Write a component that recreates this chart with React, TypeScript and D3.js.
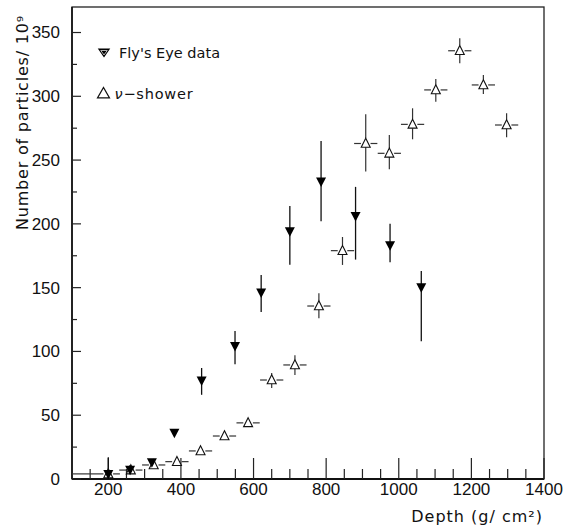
import React from "react";
import * as d3 from "d3";

const flyDepth = [200, 260, 320, 382, 457, 549, 621, 700, 786, 881, 976, 1062];
const flyValue = [3.7, 7, 13, 36, 77, 104, 146, 194, 233, 206, 183, 150];
const flyLow = [0, 4, 11, 35, 66, 90, 131, 168, 202, 172, 170, 108];
const flyHigh = [17, 11, 15, 37, 87, 116, 160, 214, 265, 229, 200, 163];

const nuDepth = [200, 262, 325, 389, 454, 520, 585, 650, 714, 780, 845, 909, 974, 1038, 1102, 1168, 1233, 1297];
const nuValue = [4, 7, 11, 13.6, 22, 33.7, 44, 77.6, 89.4, 135.6, 179, 263, 255.3, 278, 305, 335.7, 308.9, 277.5];
const nuLow = [4, 7, 11, 13.6, 22, 33.7, 44, 71.3, 81.5, 126, 167.8, 241, 242.8, 266.3, 295.8, 325.9, 301.8, 267.9];
const nuHigh = [4, 7, 11, 13.6, 22, 33.7, 44, 83, 97, 145.6, 189.7, 286, 269.7, 290.6, 313.5, 345.5, 316.7, 286.7];
const nuBinLow = [100, 230, 293, 357, 422, 488, 553, 618, 682, 748, 813, 877, 942, 1006, 1070, 1136, 1201, 1265];
const nuBinHigh = [232, 294, 357, 421, 486, 552, 617, 682, 746, 812, 877, 941, 1006, 1070, 1134, 1200, 1265, 1329];

const xMajorTicks = [200, 400, 600, 800, 1000, 1200, 1400];
const yMajorTicks = [0, 50, 100, 150, 200, 250, 300, 350];

const W = 566, H = 529;
const L = 72, R = 544, T = 7, B = 479;

export default function App() {
  const x = d3.scaleLinear().domain([100, 1400]).range([L, R]);
  const y = d3.scaleLinear().domain([0, 370]).range([B, T]);
  const xMinor = d3.range(150, 1400, 50).filter((v) => v % 200 !== 0);
  const yMinor = d3.range(25, 370, 50);
  const num = "'Liberation Sans', Arial, sans-serif";
  const txt = "'DejaVu Sans', sans-serif";

  const downTri = (cx: number, cy: number, w: number, h: number) =>
    `M${cx - w / 2},${cy - h * 0.45}L${cx + w / 2},${cy - h * 0.45}L${cx},${cy + h * 0.55}Z`;
  const upTri = (cx: number, cy: number, w: number, h: number) =>
    `M${cx - w / 2},${cy + h * 0.42}L${cx + w / 2},${cy + h * 0.42}L${cx},${cy - h * 0.58}Z`;

  return (
    <svg width={W} height={H} style={{ position: "absolute", left: 0, top: 0, background: "#fff" }}>
      {/* frame */}
      <rect x={L} y={T} width={R - L} height={B - T} fill="none" stroke="#222" strokeWidth={1.3} />
      <line x1={L} x2={R} y1={B} y2={B} stroke="#111" strokeWidth={2} />
      <line x1={L} x2={L} y1={T} y2={B} stroke="#111" strokeWidth={1.6} />

      {/* x ticks */}
      {xMajorTicks.map((v) => (
        <g key={"xm" + v}>
          <line x1={x(v)} x2={x(v)} y1={B} y2={B - 21} stroke="#222" strokeWidth={1.2} />
          <text x={x(v)} y={495} textAnchor="middle" fontFamily={num} fontSize={17} fill="#111">
            {v}
          </text>
        </g>
      ))}
      {xMinor.map((v) => (
        <line key={"xn" + v} x1={x(v)} x2={x(v)} y1={B} y2={B - 10} stroke="#222" strokeWidth={1.2} />
      ))}

      {/* y ticks */}
      {yMajorTicks.map((v) => (
        <g key={"ym" + v}>
          <line x1={L} x2={L + 9} y1={y(v)} y2={y(v)} stroke="#222" strokeWidth={1.2} />
          <text x={60} y={y(v)} dy="0.35em" textAnchor="end" fontFamily={num} fontSize={17} fill="#111">
            {v}
          </text>
        </g>
      ))}
      {yMinor.map((v) => (
        <line key={"yn" + v} x1={L} x2={L + 5} y1={y(v)} y2={y(v)} stroke="#222" strokeWidth={1.2} />
      ))}

      {/* axis titles */}
      <text x={543} y={521.5} textAnchor="end" fontFamily={txt} fontSize={16} letterSpacing={1} fill="#111">
        Depth (g/ cm²)
      </text>
      <text
        transform="translate(27.5,15) rotate(-90)"
        textAnchor="end"
        fontFamily={txt}
        fontSize={16}
        letterSpacing={0.8}
        fill="#111"
      >
        Number of particles/ 10⁹
      </text>

      {/* nu-shower */}
      {nuDepth.map((d, i) => {
        const cx = x(d), cy = y(nuValue[i]);
        const top = cy - 5.2, bot = cy + 3.6;
        const yh = y(nuHigh[i]), yl = y(nuLow[i]);
        return (
          <g key={"nu" + i} stroke="#333" strokeWidth={1.2}>
            <line x1={x(nuBinLow[i])} x2={cx - 4.8} y1={cy} y2={cy} />
            <line x1={cx + 4.8} x2={x(nuBinHigh[i])} y1={cy} y2={cy} />
            {yh < top && <line x1={cx} x2={cx} y1={yh} y2={top} />}
            {yl > bot && <line x1={cx} x2={cx} y1={bot} y2={yl} />}
            <path d={upTri(cx, cy, 9, 9)} fill="#fff" stroke="#111" strokeWidth={1.1} />
          </g>
        );
      })}

      {/* Fly's Eye */}
      {flyDepth.map((d, i) => {
        const cx = x(d), cy = y(flyValue[i]);
        return (
          <g key={"fe" + i}>
            <line x1={cx} x2={cx} y1={y(flyHigh[i])} y2={y(flyLow[i])} stroke="#111" strokeWidth={1.3} />
            <path d={downTri(cx, cy, 10, 9.5)} fill="#000" />
          </g>
        );
      })}

      {/* legend */}
      <path d={downTri(104, 52.5, 12.5, 9)} fill="#000" />
      <path d={downTri(104, 52.5, 6.5, 4.5)} fill="none" stroke="#fff" strokeWidth={0.7} />
      <text x={119} y={58.3} fontFamily={txt} fontSize={14.5} fill="#111">
        Fly's Eye data
      </text>
      <path d={upTri(103.5, 93.5, 12, 10.5)} fill="#fff" stroke="#111" strokeWidth={1.2} />
      <text x={114.5} y={99} fontFamily={txt} fontSize={14.5} letterSpacing={0.8} fill="#111">
        <tspan fontStyle="italic">ν</tspan>−shower
      </text>
    </svg>
  );
}
